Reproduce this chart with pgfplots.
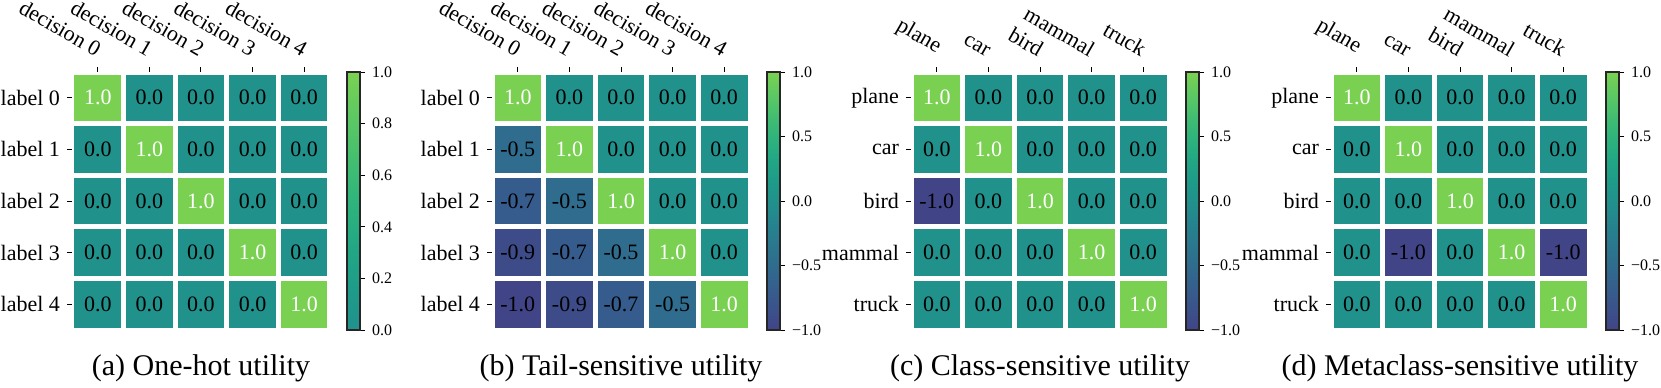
\documentclass[border=0pt]{standalone}
\usepackage{fontspec}
\setmainfont{Liberation Serif}
\usepackage{pgfplots}
\pgfplotsset{compat=1.18}
\usepackage{pgfplotstable}

\newcommand{\cellfont}{\fontsize{11}{13}\selectfont}
\newcommand{\cbfont}{\fontsize{8}{10}\selectfont}
\newcommand{\capfont}{\fontsize{15}{18}\selectfont}

\pgfplotsset{
  colormap={vhalf}{rgb255=(33,145,140) rgb255=(30,156,137) rgb255=(34,168,132) rgb255=(47,180,124) rgb255=(68,191,112) rgb255=(94,201,98) rgb255=(122,209,81)},
  colormap={vfull}{rgb255=(65,68,135) rgb255=(59,82,139) rgb255=(53,95,141) rgb255=(47,108,142) rgb255=(42,120,142) rgb255=(37,132,142) rgb255=(33,145,140) rgb255=(30,156,137) rgb255=(34,168,132) rgb255=(47,180,124) rgb255=(68,191,112) rgb255=(94,201,98) rgb255=(122,209,81)},
  hm/.style={
    scale only axis, width=129pt, height=129pt, anchor=south west,
    xmin=-0.5, xmax=4.5, ymin=-0.5, ymax=4.5, y dir=reverse,
    axis line style={draw=none}, axis on top,
    xtick={0,1,2,3,4}, ytick={0,1,2,3,4},
    xtick pos=right, xticklabel pos=right, ytick pos=left,
    tick align=outside, major tick length=2.5pt,
    tick style={black, line width=0.5pt},
    ticklabel style={font=\cellfont},
    xticklabel style={rotate=-30, anchor=south east},
    colorbar,
    colorbar style={
      at={(parent axis.north east)}, anchor=north west,
      scale only axis, width=6.5pt, height=129pt,
      axis line style={draw=black!85, line width=0.7pt},
      ytick pos=right, yticklabel pos=right, tick align=outside, major tick length=2.5pt,
      tick style={black, line width=0.5pt},
      yticklabel style={font=\cbfont},
    },
  },
  cells/.style={matrix plot*, mesh/cols=5, point meta=explicit, shader=faceted, faceted color=white, line width=2.5pt},
  txtblack/.style={only marks, mark=none, point meta=explicit symbolic, nodes near coords,
    nodes near coords style={font=\cellfont, text=black, anchor=center},
    restrict expr to domain={\thisrow{v}}{-2:0.5}},
  txtwhite/.style={only marks, mark=none, point meta=explicit symbolic, nodes near coords,
    nodes near coords style={font=\cellfont, text=white, anchor=center},
    restrict expr to domain={\thisrow{v}}{0.5:2}},
  cbfull/.style={colormap name=vfull, point meta min=-1, point meta max=1,
    colorbar style={ytick={-1,-0.5,0,0.5,1}, yticklabels={−1.0,−0.5,0.0,0.5,1.0}}},
}

\pgfplotstableread{
x y v
0 0 1.0
1 0 0.0
2 0 0.0
3 0 0.0
4 0 0.0
0 1 0.0
1 1 1.0
2 1 0.0
3 1 0.0
4 1 0.0
0 2 0.0
1 2 0.0
2 2 1.0
3 2 0.0
4 2 0.0
0 3 0.0
1 3 0.0
2 3 0.0
3 3 1.0
4 3 0.0
0 4 0.0
1 4 0.0
2 4 0.0
3 4 0.0
4 4 1.0
}\dataA

\pgfplotstableread{
x y v
0 0 1.0
1 0 0.0
2 0 0.0
3 0 0.0
4 0 0.0
0 1 -0.5
1 1 1.0
2 1 0.0
3 1 0.0
4 1 0.0
0 2 -0.7
1 2 -0.5
2 2 1.0
3 2 0.0
4 2 0.0
0 3 -0.9
1 3 -0.7
2 3 -0.5
3 3 1.0
4 3 0.0
0 4 -1.0
1 4 -0.9
2 4 -0.7
3 4 -0.5
4 4 1.0
}\dataB

\pgfplotstableread{
x y v
0 0 1.0
1 0 0.0
2 0 0.0
3 0 0.0
4 0 0.0
0 1 0.0
1 1 1.0
2 1 0.0
3 1 0.0
4 1 0.0
0 2 -1.0
1 2 0.0
2 2 1.0
3 2 0.0
4 2 0.0
0 3 0.0
1 3 0.0
2 3 0.0
3 3 1.0
4 3 0.0
0 4 0.0
1 4 0.0
2 4 0.0
3 4 0.0
4 4 1.0
}\dataC

\pgfplotstableread{
x y v
0 0 1.0
1 0 0.0
2 0 0.0
3 0 0.0
4 0 0.0
0 1 0.0
1 1 1.0
2 1 0.0
3 1 0.0
4 1 0.0
0 2 0.0
1 2 0.0
2 2 1.0
3 2 0.0
4 2 0.0
0 3 0.0
1 3 -1.0
2 3 0.0
3 3 1.0
4 3 -1.0
0 4 0.0
1 4 0.0
2 4 0.0
3 4 0.0
4 4 1.0
}\dataD

\begin{document}
\begin{tikzpicture}
\useasboundingbox (0,0) rectangle (830.5pt,193.5pt);

% (a)
\begin{axis}[hm, at={(36pt,28.5pt)},
  colormap name=vhalf, point meta min=0, point meta max=1,
  colorbar style={ytick={0,0.2,0.4,0.6,0.8,1}, yticklabels={0.0,0.2,0.4,0.6,0.8,1.0}},
  xticklabels={decision 0,decision 1,decision 2,decision 3,decision 4},
  yticklabels={label 0,label 1,label 2,label 3,label 4}]
\addplot[cells] table[meta=v] {\dataA};
\addplot[txtblack] table[meta=v] {\dataA};
\addplot[txtwhite] table[meta=v] {\dataA};
\end{axis}

% (b)
\begin{axis}[hm, cbfull, at={(246pt,28.5pt)},
  xticklabels={decision 0,decision 1,decision 2,decision 3,decision 4},
  yticklabels={label 0,label 1,label 2,label 3,label 4}]
\addplot[cells] table[meta=v] {\dataB};
\addplot[txtblack] table[meta=v] {\dataB};
\addplot[txtwhite] table[meta=v] {\dataB};
\end{axis}

% (c)
\begin{axis}[hm, cbfull, at={(455.5pt,28.5pt)},
  xticklabels={plane,car,bird,mammal,truck},
  yticklabels={plane,car,bird,mammal,truck}]
\addplot[cells] table[meta=v] {\dataC};
\addplot[txtblack] table[meta=v] {\dataC};
\addplot[txtwhite] table[meta=v] {\dataC};
\end{axis}

% (d)
\begin{axis}[hm, cbfull, at={(665.5pt,28.5pt)},
  xticklabels={plane,car,bird,mammal,truck},
  yticklabels={plane,car,bird,mammal,truck}]
\addplot[cells] table[meta=v] {\dataD};
\addplot[txtblack] table[meta=v] {\dataD};
\addplot[txtwhite] table[meta=v] {\dataD};
\end{axis}

\node[anchor=base, font=\capfont, inner sep=0pt] at (100.5pt,6pt) {(a) One-hot utility};
\node[anchor=base, font=\capfont, inner sep=0pt] at (310.5pt,6pt) {(b) Tail-sensitive utility};
\node[anchor=base, font=\capfont, inner sep=0pt] at (520pt,6pt) {(c) Class-sensitive utility};
\node[anchor=base, font=\capfont, inner sep=0pt] at (730pt,6pt) {(d) Metaclass-sensitive utility};
\end{tikzpicture}
\end{document}
